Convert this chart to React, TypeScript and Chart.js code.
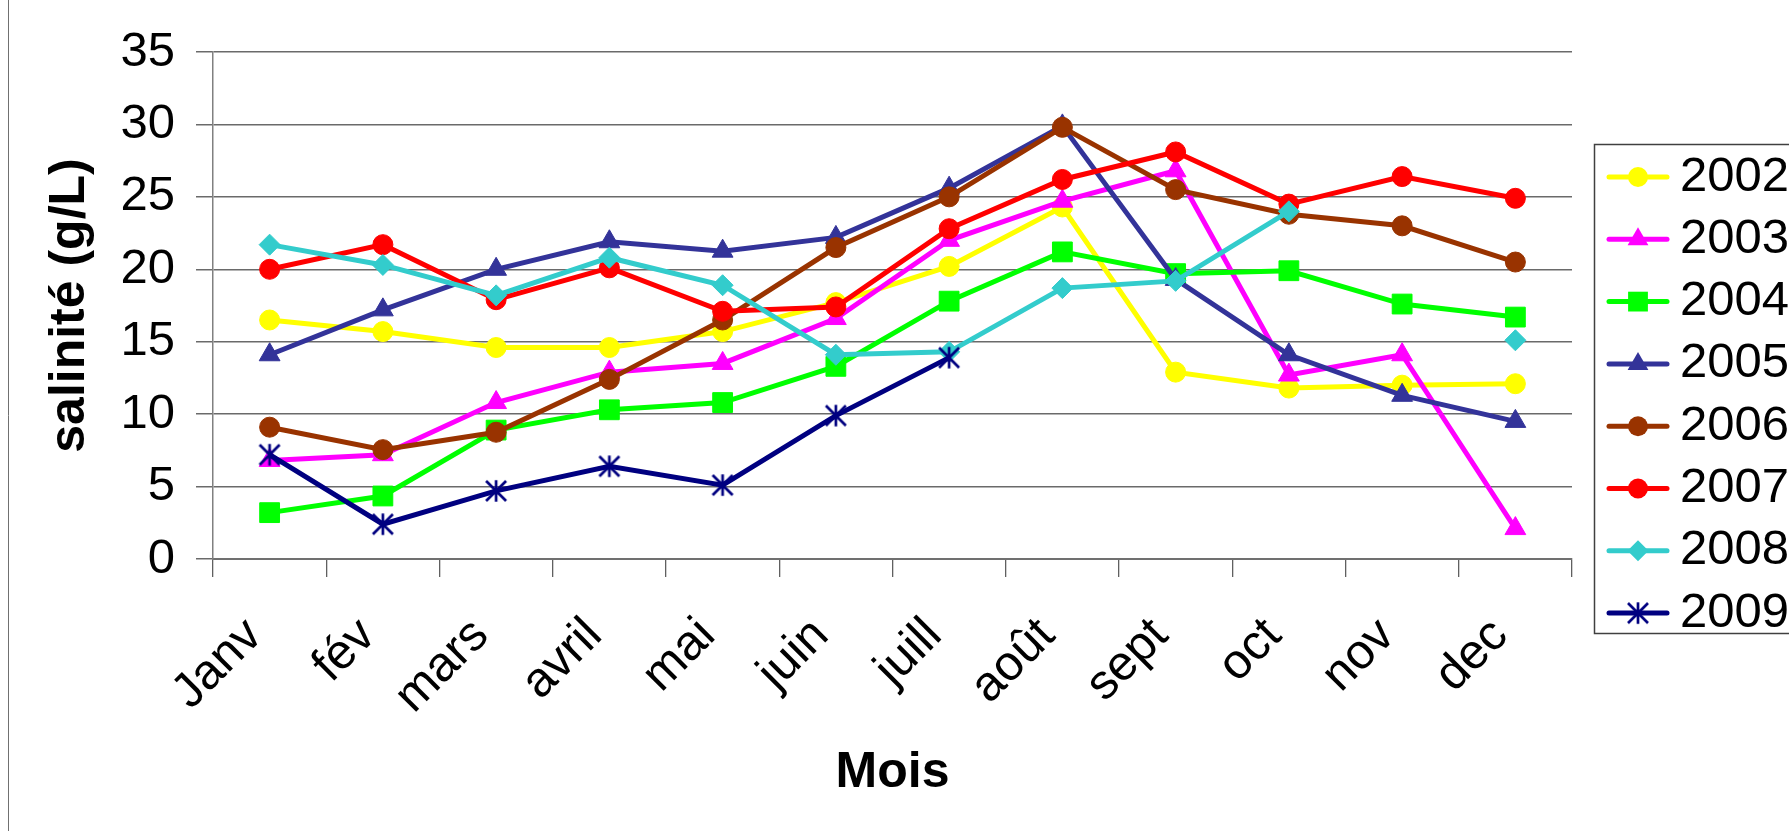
import React, { useEffect, useRef } from 'react';
import { Chart, registerables } from 'chart.js';

Chart.register(...registerables);

// ---------- DATA ----------
const months = ['Janv', 'fév', 'mars', 'avril', 'mai', 'juin', 'juill', 'août', 'sept', 'oct', 'nov', 'dec'];

const seriesNames = ['2002', '2003', '2004', '2005', '2006', '2007', '2008', '2009'];

const s2002 = [16.5, 15.7, 14.6, 14.6, 15.7, 17.7, 20.2, 24.3, 12.9, 11.8, 12.0, 12.1];
const s2003 = [6.8, 7.2, 10.8, 12.9, 13.5, 16.6, 22.0, 24.7, 26.8, 12.7, 14.1, 2.1];
const s2004 = [3.2, 4.35, 8.9, 10.3, 10.8, 13.3, 17.8, 21.2, 19.7, 19.9, 17.6, 16.7];
const s2005 = [14.1, 17.2, 20.0, 21.9, 21.25, 22.2, 25.6, 29.9, 19.3, 14.1, 11.3, 9.5];
const s2006 = [9.1, 7.55, 8.75, 12.4, 16.5, 21.5, 25.0, 29.8, 25.5, 23.8, 23.0, 20.5];
const s2007 = [20.0, 21.7, 17.9, 20.1, 17.1, 17.4, 22.8, 26.2, 28.1, 24.5, 26.4, 24.9];
const s2008 = [21.7, 20.3, 18.2, 20.8, 18.9, 14.1, 14.3, 18.7, 19.2, 24.0, null, 15.1];
const s2009 = [7.2, 2.4, 4.7, 6.4, 5.1, 9.9, 13.9, null, null, null, null, null];

const seriesValues = [s2002, s2003, s2004, s2005, s2006, s2007, s2008, s2009];

const seriesColors = ['#FFFF00', '#FF00FF', '#00FF00', '#333399', '#993300', '#FF0000', '#33CCCC', '#000080'];
const seriesMarkers = ['circle', 'triangle', 'rect', 'triangle', 'circle', 'circle', 'rectRot', 'asterisk'];
const markerRadii = [10, 12, 14, 12, 10, 10, 10.5, 10];

const yMin = 0;
const yMax = 35;
const yStep = 5;

const yTitle = 'salinité (g/L)';
const xTitle = 'Mois';

// ---------- LAYOUT ----------
const W = 1789;
const H = 831;
const FONT = '"Liberation Sans", Arial, Helvetica, sans-serif';

// Excel-like asterisk marker (vertical bar + X), rendered as an image point style
function makeAsterisk(color: string): HTMLCanvasElement {
  const c = document.createElement('canvas');
  c.width = 26;
  c.height = 26;
  const g = c.getContext('2d')!;
  g.strokeStyle = color;
  g.lineWidth = 2.7;
  g.lineCap = 'butt';
  g.beginPath();
  g.moveTo(13, 2.2);
  g.lineTo(13, 23.8);
  g.moveTo(3, 3);
  g.lineTo(23, 23);
  g.moveTo(23, 3);
  g.lineTo(3, 23);
  g.stroke();
  return c;
}

function drawMarker(
  ctx: CanvasRenderingContext2D,
  style: any,
  x: number,
  y: number,
  r: number,
  color: string
) {
  ctx.save();
  ctx.fillStyle = color;
  ctx.strokeStyle = color;
  ctx.beginPath();
  if (typeof style !== 'string') {
    ctx.drawImage(style, x - style.width / 2, y - style.height / 2);
  } else if (style === 'circle') {
    ctx.arc(x, y, r, 0, Math.PI * 2);
    ctx.fill();
  } else if (style === 'triangle') {
    ctx.moveTo(x, y - r);
    ctx.lineTo(x + (r * Math.sqrt(3)) / 2, y + r / 2);
    ctx.lineTo(x - (r * Math.sqrt(3)) / 2, y + r / 2);
    ctx.closePath();
    ctx.fill();
  } else if (style === 'rect') {
    const s = r * Math.SQRT1_2;
    ctx.rect(x - s, y - s, 2 * s, 2 * s);
    ctx.fill();
  } else if (style === 'rectRot') {
    ctx.moveTo(x - r, y);
    ctx.lineTo(x, y - r);
    ctx.lineTo(x + r, y);
    ctx.lineTo(x, y + r);
    ctx.closePath();
    ctx.fill();
  }
  ctx.restore();
}

const boxLegendPlugin = {
  id: 'boxLegend',
  beforeDraw(chart: any) {
    const ctx: CanvasRenderingContext2D = chart.ctx;
    ctx.save();
    ctx.fillStyle = '#ffffff';
    ctx.fillRect(0, 0, chart.width, chart.height);
    // outer frame (only its left edge is inside the picture)
    ctx.strokeStyle = '#707070';
    ctx.lineWidth = 1;
    ctx.beginPath();
    ctx.moveTo(8.5, 0);
    ctx.lineTo(8.5, chart.height);
    ctx.stroke();
    ctx.restore();
  },
  afterDraw(chart: any) {
    const ctx: CanvasRenderingContext2D = chart.ctx;
    const left = 1594.5;
    const top = 144.5;
    const bottom = 633.5;
    const firstRow = 177;
    const rowH = 62.3;
    ctx.save();
    ctx.strokeStyle = '#404040';
    ctx.lineWidth = 1.5;
    ctx.strokeRect(left, top, W - left + 20, bottom - top);
    ctx.font = `49px ${FONT}`;
    ctx.textBaseline = 'middle';
    ctx.textAlign = 'left';
    chart.data.datasets.forEach((ds: any, i: number) => {
      const y = firstRow + i * rowH;
      ctx.strokeStyle = ds.borderColor;
      ctx.lineWidth = 5;
      ctx.lineCap = 'round';
      ctx.beginPath();
      ctx.moveTo(1609, y);
      ctx.lineTo(1667, y);
      ctx.stroke();
      drawMarker(ctx, ds.pointStyle, 1638, y, ds.pointRadius, ds.borderColor);
      ctx.fillStyle = '#000000';
      ctx.fillText(ds.label, 1680, y);
    });
    ctx.restore();
  },
};

export default function App() {
  const canvasRef = useRef<HTMLCanvasElement>(null);

  useEffect(() => {
    if (!canvasRef.current) return;
    const datasets = seriesNames.map((name, i) => {
      const marker: any =
        seriesMarkers[i] === 'asterisk' ? makeAsterisk(seriesColors[i]) : seriesMarkers[i];
      return {
        label: name,
        data: seriesValues[i],
        borderColor: seriesColors[i],
        backgroundColor: seriesColors[i],
        borderWidth: 5,
        pointStyle: marker,
        pointRadius: markerRadii[i],
        pointBorderWidth: 1,
        pointBackgroundColor: seriesColors[i],
        pointBorderColor: seriesColors[i],
        tension: 0,
        spanGaps: false,
        order: seriesNames.length - 1 - i,
      };
    });

    const chart = new Chart(canvasRef.current, {
      type: 'line',
      data: { labels: months, datasets },
      options: {
        responsive: false,
        animation: false,
        devicePixelRatio: 1,
        layout: { padding: { top: 52, right: 217, bottom: 0, left: 0 } },
        plugins: {
          legend: { display: false },
          tooltip: { enabled: false },
        },
        scales: {
          x: {
            type: 'category',
            offset: true,
            afterFit: (s: any) => {
              s.height = 272;
            },
            grid: {
              offset: true,
              drawOnChartArea: false,
              drawTicks: true,
              tickLength: 18,
              color: '#606060',
              lineWidth: 1.3,
            },
            border: { display: true, color: '#707070', width: 2 },
            ticks: {
              autoSkip: false,
              maxRotation: 45,
              minRotation: 45,
              padding: 30,
              labelOffset: -15,
              color: '#000000',
              font: { family: FONT, size: 49 },
            },
            title: {
              display: true,
              text: xTitle,
              color: '#000000',
              font: { family: FONT, size: 50, weight: 'bold' },
              padding: { top: 0, bottom: 28 },
            },
          },
          y: {
            min: yMin,
            max: yMax,
            afterFit: (s: any) => {
              s.width = 213;
            },
            grid: {
              color: '#6a6a6a',
              lineWidth: 1.5,
              drawTicks: true,
              tickLength: 17,
            },
            border: { display: true, color: '#808080', width: 1.5 },
            ticks: {
              stepSize: yStep,
              padding: 21,
              color: '#000000',
              font: { family: FONT, size: 49 },
            },
            title: {
              display: true,
              text: yTitle,
              color: '#000000',
              font: { family: FONT, size: 50, weight: 'bold' },
              padding: { top: 40, bottom: 0 },
            },
          },
        },
      },
      plugins: [boxLegendPlugin],
    } as any);

    return () => chart.destroy();
  }, []);

  return (
    <div style={{ position: 'fixed', left: 0, top: 0, width: W, height: H, background: '#fff', overflow: 'hidden' }}>
      <canvas ref={canvasRef} width={W} height={H} style={{ display: 'block', width: W, height: H }} />
    </div>
  );
}
